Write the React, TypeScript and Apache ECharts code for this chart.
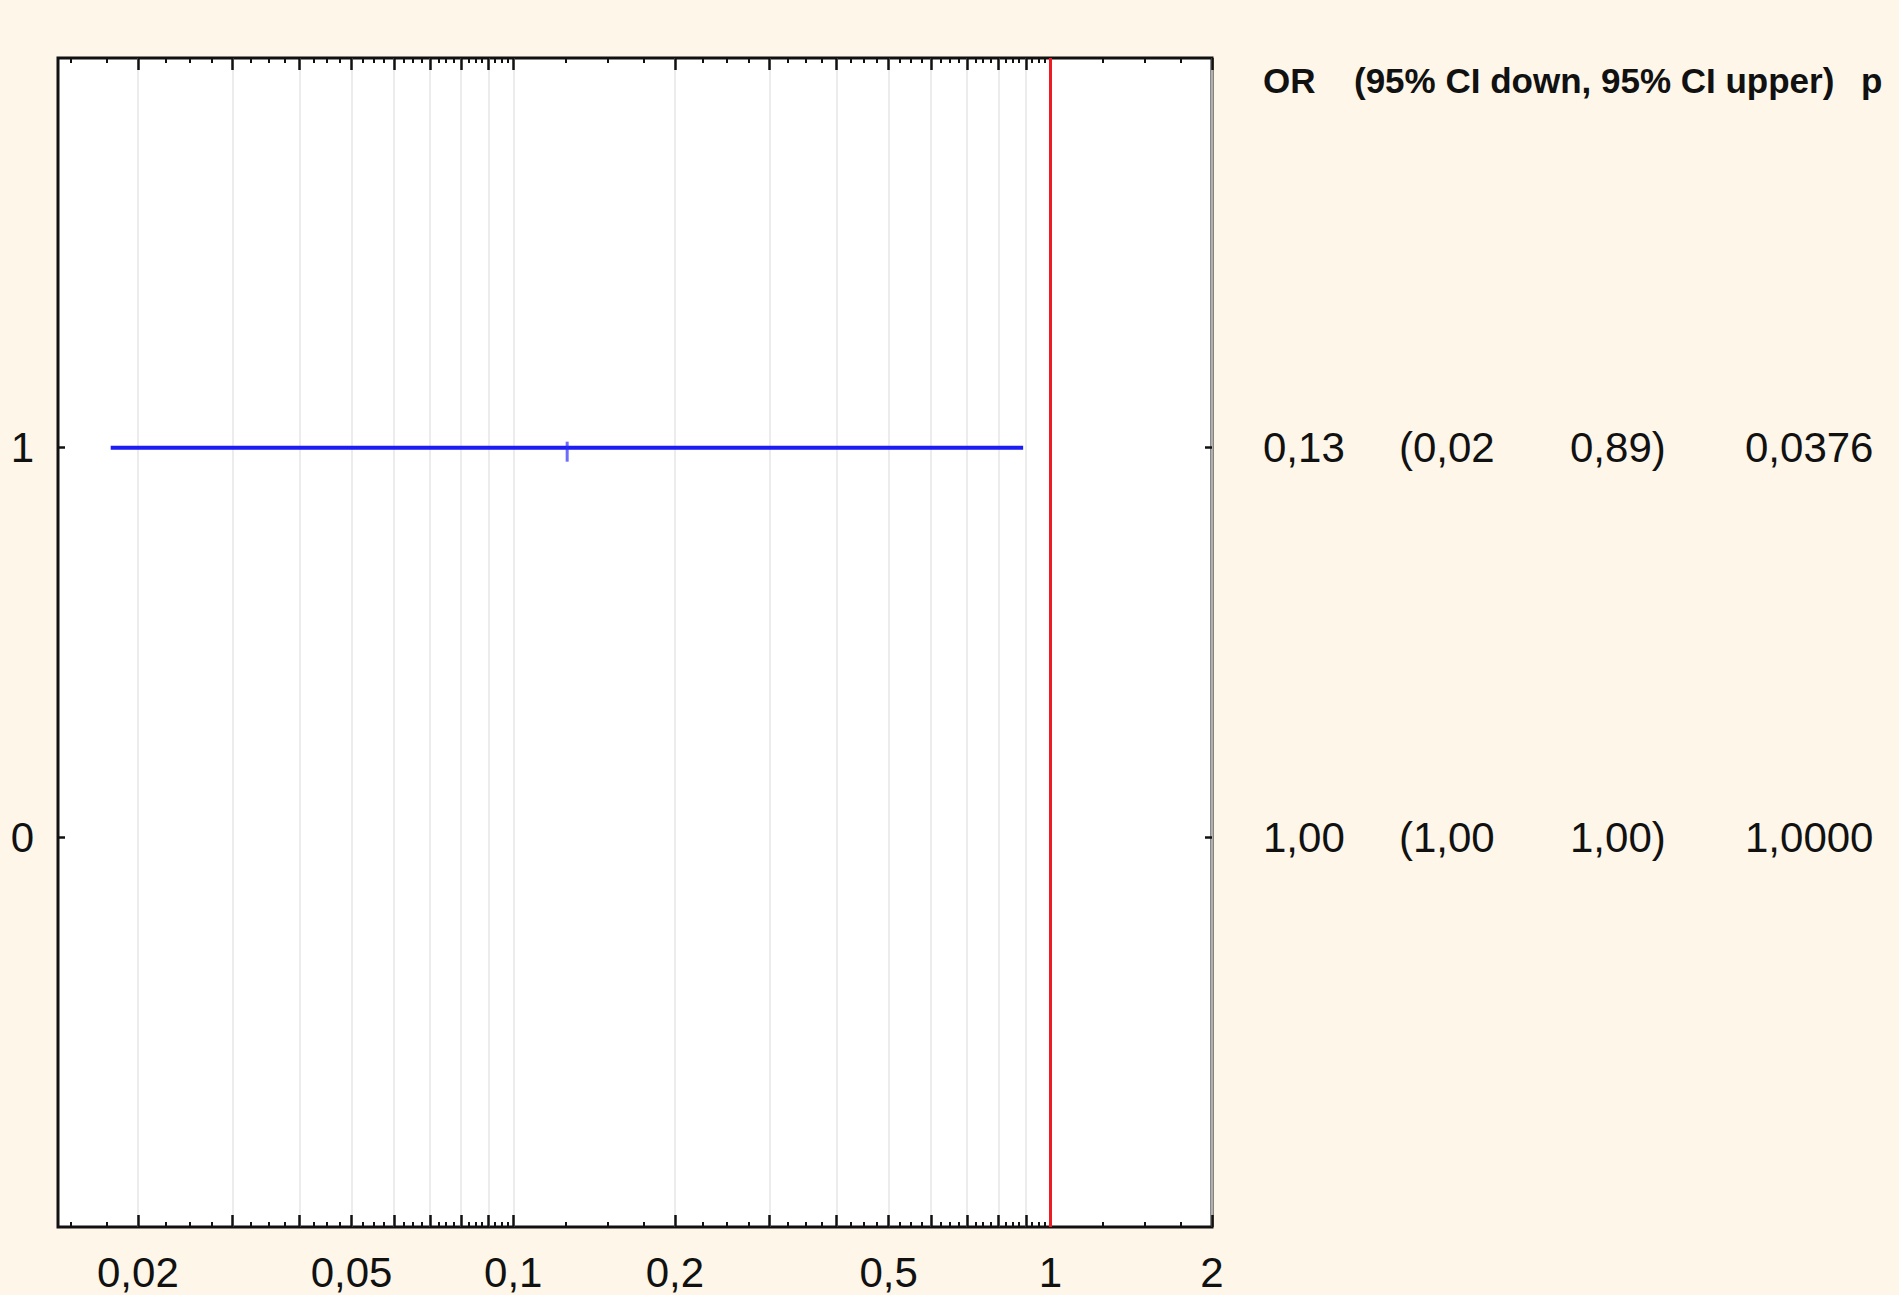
import React, { useEffect, useRef } from 'react';
import * as echarts from 'echarts';

// ---- data ----
const X_MIN = 0.0142;
const X_MAX = 2;
const xLabelValues = [0.02, 0.05, 0.1, 0.2, 0.5, 1, 2];
const xMajorTickValues = [0.02, 0.03, 0.04, 0.05, 0.06, 0.07, 0.08, 0.09, 0.1, 0.2, 0.3, 0.4, 0.5, 0.6, 0.7, 0.8, 0.9, 1, 2];
const yTickValues = [0, 1];
const rowY = [1, 0];
const orPlot = [0.126, 1.0];
const lowPlot = [0.0178, 1.0];
const highPlot = [0.89, 1.0];
const orText = [0.13, 1.0];
const lowText = [0.02, 1.0];
const highText = [0.89, 1.0];
const pText = [0.0376, 1.0];
const referenceValue = 1;
const headerTexts = ['OR', '(95% CI down, 95% CI upper)', 'p'];

const lg = (v: number) => Math.log10(v);
const comma = (s: string) => s.replace('.', ',');

const minorTickValues: number[] = [];
for (const d of [0.01, 0.1, 1]) {
  for (let k = 5; k < 40; k++) {
    if (k % 4 === 0) continue;
    const v = (d * k) / 4;
    if (v > X_MIN && v < X_MAX) minorTickValues.push(v);
  }
}

const FONT = "'Liberation Sans', Arial, sans-serif";
const INK = '#111111';

function labelFormatter(v: number) {
  let best = xLabelValues[0];
  for (const t of xLabelValues) if (Math.abs(lg(t) - v) < Math.abs(lg(best) - v)) best = t;
  return comma(String(best));
}

function makeX(position: 'top' | 'bottom', ticks: number[], len: number, width: number, labels: boolean, split: boolean) {
  return {
    type: 'value',
    gridIndex: 0,
    position,
    min: lg(X_MIN),
    max: lg(X_MAX),
    axisLine: { show: false, onZero: false },
    axisTick: { show: true, inside: true, length: len, lineStyle: { color: INK, width }, customValues: ticks.map(lg) },
    axisLabel: labels
      ? { show: true, customValues: xLabelValues.map(lg), formatter: labelFormatter, margin: 24, fontSize: 42, fontFamily: FONT, color: INK }
      : { show: false },
    splitLine: split ? { show: true, lineStyle: { color: '#e6e6e6', width: 1.5 } } : { show: false },
  };
}

function makeY(position: 'left' | 'right', labels: boolean) {
  return {
    type: 'value',
    gridIndex: 0,
    position,
    min: -1,
    max: 2,
    axisLine: { show: false, onZero: false },
    axisTick: { show: true, inside: true, length: 7, lineStyle: { color: INK, width: 2.5 }, customValues: yTickValues },
    axisLabel: labels
      ? { show: true, customValues: yTickValues, margin: 24, fontSize: 42, fontFamily: FONT, color: INK }
      : { show: false },
    splitLine: { show: false },
  };
}

export default function App() {
  const ref = useRef<HTMLDivElement>(null);
  useEffect(() => {
    if (!ref.current) return;
    const chart = echarts.init(ref.current, undefined, { renderer: 'svg' });
    const rows = rowY.map((y, i) => i).filter((i) => lowPlot[i] < highPlot[i]);
    const series: any[] = rows.map((i, n) => ({
      type: 'line',
      xAxisIndex: 0,
      yAxisIndex: 0,
      symbol: 'none',
      data: [
        [lg(lowPlot[i]), rowY[i]],
        [lg(highPlot[i]), rowY[i]],
      ],
      lineStyle: { color: '#1c1cf5', width: 4 },
      z: 3,
      markLine:
        n === 0
          ? {
              silent: true,
              symbol: ['none', 'none'],
              label: { show: false },
              lineStyle: { color: '#ec1c24', width: 3, type: 'solid' },
              data: [{ xAxis: lg(referenceValue) }],
            }
          : undefined,
    }));
    series.push({
      type: 'scatter',
      xAxisIndex: 0,
      yAxisIndex: 0,
      symbol: 'rect',
      symbolSize: [3, 20],
      symbolOffset: [0, 4],
      itemStyle: { color: 'rgba(40,40,245,0.85)' },
      data: rows.map((i) => [lg(orPlot[i]), rowY[i]]),
      z: 4,
    });

    chart.setOption({
      animation: false,
      backgroundColor: '#fdf6e9',
      grid: {
        left: 58,
        top: 58,
        right: 687,
        bottom: 68,
        show: true,
        backgroundColor: '#ffffff',
        borderColor: INK,
        borderWidth: 3,
        containLabel: false,
        outerBoundsMode: 'none',
        z: 0,
      },
      xAxis: [
        makeX('bottom', xMajorTickValues, 12, 2.5, true, true),
        makeX('bottom', minorTickValues, 5, 2, false, false),
        makeX('top', xMajorTickValues, 12, 2.5, false, false),
        makeX('top', minorTickValues, 5, 2, false, false),
      ],
      yAxis: [makeY('left', true), makeY('right', false)],
      series,
    });

    const colX = [1263, 1399, 1570, 1745];
    const headerX = [1263, 1354, 1861];
    const graphics: any[] = headerTexts.map((t, j) => ({
      type: 'text',
      x: headerX[j],
      y: 80,
      style: { text: t, fontSize: 35, fontWeight: 'bold', fontFamily: FONT, fill: INK, textAlign: 'left', textVerticalAlign: 'middle' },
    }));
    rowY.forEach((yv, i) => {
      const py = chart.convertToPixel({ yAxisIndex: 0 }, yv) as number;
      const cells = [
        comma(orText[i].toFixed(2)),
        '(' + comma(lowText[i].toFixed(2)),
        comma(highText[i].toFixed(2)) + ')',
        comma(pText[i].toFixed(4)),
      ];
      cells.forEach((c, j) => {
        graphics.push({
          type: 'text',
          x: colX[j],
          y: py,
          style: { text: c, fontSize: 42, fontFamily: FONT, fill: INK, textAlign: 'left', textVerticalAlign: 'middle' },
        });
      });
    });
    chart.setOption({ graphic: graphics });

    return () => chart.dispose();
  }, []);
  return <div ref={ref} style={{ position: 'absolute', left: 0, top: 0, width: 1899, height: 1295 }} />;
}
